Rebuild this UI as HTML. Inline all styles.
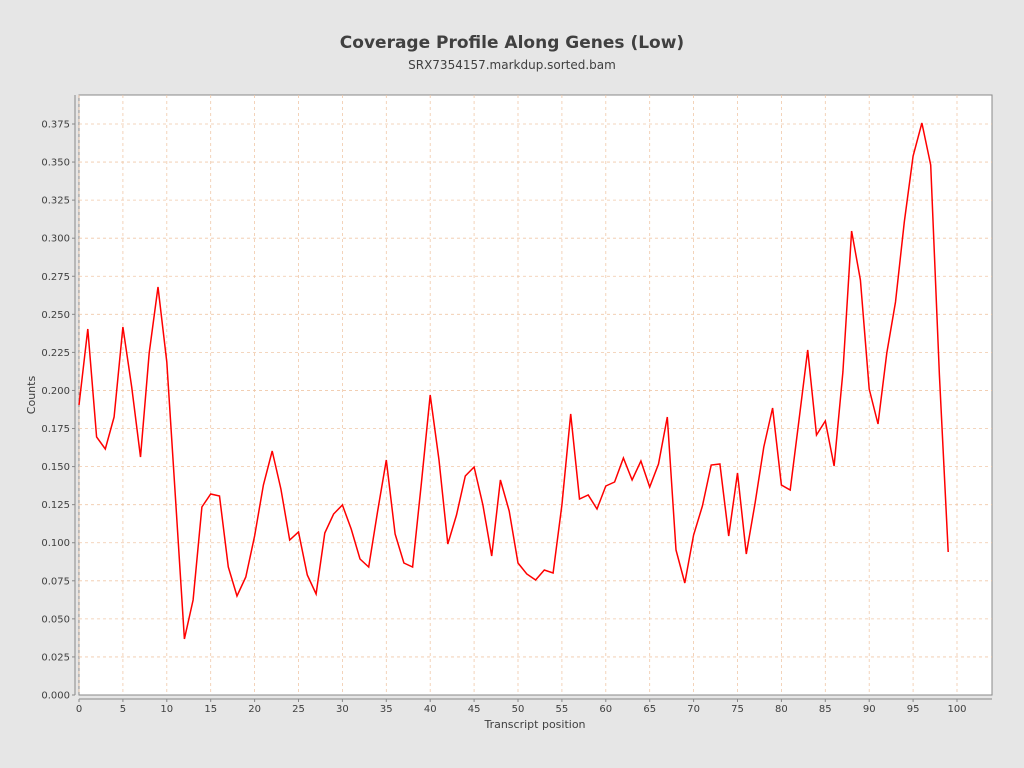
<!DOCTYPE html>
<html><head><meta charset="utf-8"><style>
body{margin:0;background:#e6e6e6;}
svg{display:block;font-family:"DejaVu Sans","Liberation Sans",sans-serif;}
</style></head><body>
<svg width="1024" height="768" xmlns="http://www.w3.org/2000/svg">
<rect width="1024" height="768" fill="#e6e6e6"/>
<text x="512" y="48" text-anchor="middle" font-size="17" font-weight="bold" fill="#404040">Coverage Profile Along Genes (Low)</text>
<text x="512" y="69" text-anchor="middle" font-size="12" fill="#404040">SRX7354157.markdup.sorted.bam</text>
<rect x="79" y="95" width="913" height="600" fill="#fff" stroke="#888" stroke-width="1"/>
<g id="grid" stroke="#f0c8a8" stroke-width="0.8" stroke-dasharray="3,3"></g>
<g id="ticks" font-size="10" fill="#404040"></g>
<line x1="75" y1="95" x2="75" y2="695" stroke="#888"/>
<line x1="79" y1="699" x2="992" y2="699" stroke="#888"/>
<polyline id="ln" fill="none" stroke="#ff0000" stroke-width="1.5"/>
<text x="535" y="728" text-anchor="middle" font-size="11" fill="#404040">Transcript position</text>
<text transform="translate(35,395) rotate(-90)" text-anchor="middle" font-size="11" fill="#404040">Counts</text>
</svg>
<script>
var ns="http://www.w3.org/2000/svg";
var g=document.getElementById('grid'),t=document.getElementById('ticks');
function el(p,n,a,txt){var e=document.createElementNS(ns,n);for(var k in a)e.setAttribute(k,a[k]);if(txt!=null)e.textContent=txt;p.appendChild(e);return e;}
for(var i=0;i<=100;i+=5){var x=79+i*8.78;
 el(g,'line',{x1:x,y1:95,x2:x,y2:695});
 el(t,'line',{x1:x,y1:699,x2:x,y2:702,stroke:'#888'});
 el(t,'text',{x:x,y:712,'text-anchor':'middle'},i);}
for(var j=0;j<=15;j++){var v=j*0.025,y=695-v*1522.7;
 if(j>0)el(g,'line',{x1:79,y1:y,x2:992,y2:y});
 el(t,'line',{x1:72,y1:y,x2:75,y2:y,stroke:'#888'});
 el(t,'text',{x:70,y:y+3.5,'text-anchor':'end'},v.toFixed(3));}
var ys=[405,329,437,449,417,327,387,457,353,287,362,500,639,600,507,494,496,567,596,577,536,485,451,489,540,532,575,594,533,514,505,529,559,567,512,460,534,563,567,483,395,460,544,515,476,467,505,556,480,511,563,574,580,570,573,505,414,499,495,509,486,482,458,480,461,487,464,417,550,583,535,506,465,464,536,473,554,503,447,408,485,490,420,350,435,421,466,372,231,280,389,424,353,302,222,156,123,165,375,552];
document.getElementById('ln').setAttribute('points',ys.map(function(y,i){return (79+i*8.78).toFixed(1)+','+y}).join(' '));
</script>
</body></html>
